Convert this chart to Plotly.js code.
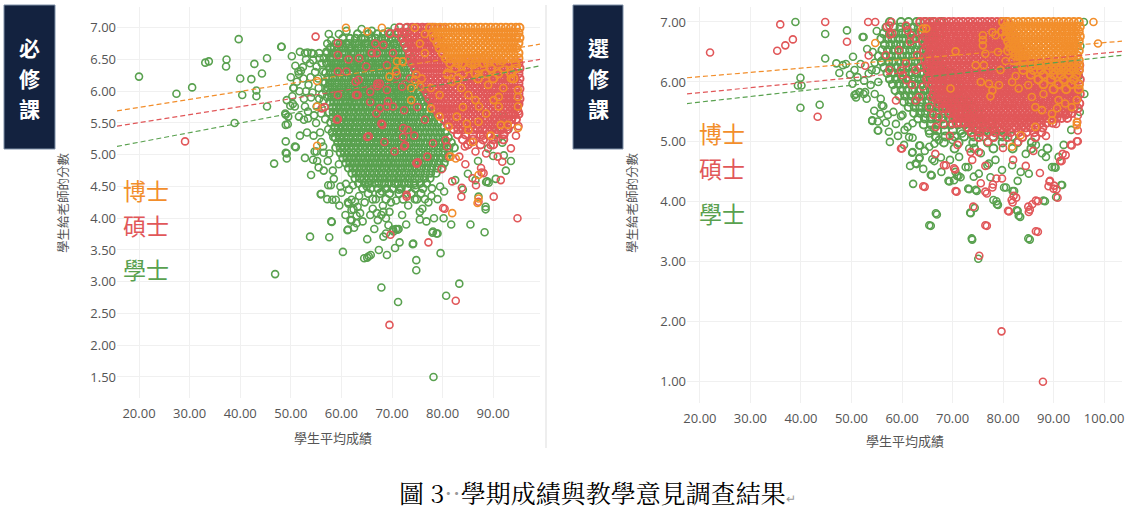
<!DOCTYPE html>
<html>
<head>
<meta charset="utf-8">
<script src="https://cdn.plot.ly/plotly-3.0.1.min.js"></script>
<style>
  html, body { margin: 0; padding: 0; background: #fff; }
  #chart { width: 1134px; height: 516px; }
</style>
</head>
<body>
<div id="chart"></div>
<script>
const C_PHD = '#F28E2B';
const C_MS = '#E15759';
const C_BA = '#59A14F';

// ---------- 必修課 (left panel) ----------
const reqXTicks = [20, 30, 40, 50, 60, 70, 80, 90];
const reqYTicks = [1.5, 2, 2.5, 3, 3.5, 4, 4.5, 5, 5.5, 6, 6.5, 7];

// dense cloud, read row by row: [score given, [average grades]]
const reqBaDense = [
  [6.90, [63.2, 65.4, 67.1, 68.3, 69.8, 71.2, 72.6]],
  [6.83, [60.3, 61.7, 62.8, 63.9, 64.7, 65.9, 66.8, 67.9, 68.7, 69.9, 70.8, 71.9, 73.1]],
  [6.75, [58.9, 59.8, 60.9, 61.6, 62.7, 63.5, 64.6, 65.3, 66.4, 67.2, 68.4, 69.1, 70.3, 71.0, 72.2, 73.4]],
  [6.68, [57.8, 58.6, 59.5, 60.4, 61.4, 62.1, 63.2, 64.0, 65.1, 65.9, 66.9, 67.8, 68.8, 69.6, 70.7, 71.5, 72.6]],
  [6.60, [57.2, 58.2, 59.0, 60.1, 60.8, 61.9, 62.6, 63.7, 64.5, 65.6, 66.3, 67.4, 68.2, 69.3, 70.1, 71.2, 72.0, 73.2]],
  [6.52, [56.6, 57.7, 58.4, 59.6, 60.3, 61.5, 62.2, 63.3, 64.1, 65.2, 66.0, 67.0, 67.9, 68.9, 69.7, 70.8, 71.6, 72.7, 73.8]],
  [6.44, [57.1, 58.0, 58.9, 59.9, 60.7, 61.8, 62.5, 63.6, 64.4, 65.5, 66.2, 67.3, 68.1, 69.2, 70.0, 71.0, 71.9, 73.0, 74.1]],
  [6.37, [57.6, 58.5, 59.3, 60.4, 61.2, 62.2, 63.0, 64.0, 64.9, 65.8, 66.7, 67.6, 68.6, 69.4, 70.4, 71.3, 72.3, 73.2, 74.4]],
  [6.29, [56.9, 57.9, 58.8, 59.7, 60.6, 61.6, 62.4, 63.4, 64.2, 65.2, 66.1, 67.0, 67.9, 68.9, 69.8, 70.7, 71.7, 72.6, 73.6, 74.7]],
  [6.21, [57.4, 58.3, 59.2, 60.1, 61.0, 62.0, 62.8, 63.8, 64.6, 65.6, 66.5, 67.4, 68.3, 69.3, 70.2, 71.1, 72.1, 73.0, 74.0, 75.1]],
  [6.13, [56.8, 57.7, 58.7, 59.5, 60.5, 61.4, 62.3, 63.2, 64.1, 65.0, 65.9, 66.9, 67.7, 68.7, 69.6, 70.5, 71.5, 72.4, 73.4, 74.4, 75.5]],
  [6.06, [57.3, 58.2, 59.1, 60.0, 60.9, 61.8, 62.7, 63.6, 64.5, 65.4, 66.3, 67.2, 68.1, 69.0, 70.0, 70.9, 71.8, 72.8, 73.7, 74.8, 75.9]],
  [5.98, [57.8, 58.6, 59.6, 60.4, 61.3, 62.2, 63.1, 64.0, 64.9, 65.8, 66.7, 67.6, 68.5, 69.5, 70.4, 71.3, 72.2, 73.2, 74.1, 75.2, 76.3]],
  [5.91, [57.2, 58.1, 59.0, 59.9, 60.8, 61.7, 62.6, 63.5, 64.4, 65.3, 66.2, 67.1, 68.0, 68.9, 69.9, 70.8, 71.7, 72.6, 73.6, 74.6, 75.6, 76.7]],
  [5.83, [57.7, 58.5, 59.4, 60.3, 61.2, 62.1, 63.0, 63.9, 64.8, 65.7, 66.6, 67.5, 68.4, 69.4, 70.3, 71.2, 72.1, 73.1, 74.0, 75.0, 76.0, 77.1]],
  [5.75, [58.2, 59.0, 59.9, 60.8, 61.7, 62.6, 63.4, 64.3, 65.2, 66.1, 67.0, 67.9, 68.8, 69.8, 70.7, 71.6, 72.5, 73.5, 74.4, 75.4, 76.4, 77.5]],
  [5.67, [57.6, 58.4, 59.3, 60.2, 61.1, 62.0, 62.9, 63.8, 64.7, 65.6, 66.5, 67.4, 68.3, 69.3, 70.2, 71.1, 72.0, 73.0, 73.9, 74.9, 75.9, 76.9, 78.0]],
  [5.59, [58.3, 59.1, 60.0, 60.9, 61.8, 62.7, 63.6, 64.5, 65.4, 66.3, 67.2, 68.1, 69.0, 70.0, 70.9, 71.8, 72.7, 73.7, 74.6, 75.6, 76.6, 77.6, 78.6]],
  [5.51, [57.9, 58.8, 59.6, 60.5, 61.4, 62.3, 63.2, 64.1, 65.0, 65.9, 66.8, 67.7, 68.6, 69.6, 70.5, 71.4, 72.3, 73.3, 74.2, 75.2, 76.2, 77.2, 78.2, 79.2]],
  [5.43, [58.6, 59.4, 60.3, 61.2, 62.1, 63.0, 63.9, 64.8, 65.7, 66.6, 67.5, 68.4, 69.3, 70.3, 71.2, 72.1, 73.0, 74.0, 74.9, 75.9, 76.9, 77.9, 78.9, 79.9]],
  [5.35, [58.2, 59.1, 59.9, 60.8, 61.7, 62.6, 63.5, 64.4, 65.3, 66.2, 67.1, 68.0, 68.9, 69.9, 70.8, 71.7, 72.6, 73.6, 74.5, 75.5, 76.5, 77.5, 78.5, 79.5, 80.5]],
  [5.27, [58.8, 59.6, 60.5, 61.4, 62.3, 63.2, 64.1, 65.0, 65.9, 66.8, 67.7, 68.6, 69.5, 70.5, 71.4, 72.3, 73.2, 74.2, 75.1, 76.1, 77.1, 78.1, 79.1, 80.1, 81.1]],
  [5.19, [59.3, 60.1, 61.0, 61.9, 62.8, 63.7, 64.6, 65.5, 66.4, 67.3, 68.2, 69.1, 70.0, 71.0, 71.9, 72.8, 73.7, 74.7, 75.6, 76.6, 77.6, 78.6, 79.6, 80.6, 81.7]],
  [5.11, [58.9, 59.8, 60.6, 61.5, 62.4, 63.3, 64.2, 65.1, 66.0, 66.9, 67.8, 68.7, 69.6, 70.6, 71.5, 72.4, 73.3, 74.3, 75.2, 76.2, 77.2, 78.2, 79.2, 80.2, 81.2, 82.3]],
  [5.03, [59.8, 60.6, 61.5, 62.4, 63.3, 64.2, 65.1, 66.0, 66.9, 67.8, 68.7, 69.6, 70.5, 71.5, 72.4, 73.3, 74.2, 75.2, 76.1, 77.1, 78.1, 79.1, 80.1, 81.2]],
  [4.95, [60.3, 61.1, 62.0, 62.9, 63.8, 64.7, 65.6, 66.5, 67.4, 68.3, 69.2, 70.1, 71.0, 72.0, 72.9, 73.8, 74.7, 75.7, 76.6, 77.6, 78.6, 79.6, 80.7]],
  [4.87, [60.9, 61.7, 62.6, 63.5, 64.4, 65.3, 66.2, 67.1, 68.0, 68.9, 69.8, 70.7, 71.6, 72.6, 73.5, 74.4, 75.3, 76.3, 77.2, 78.2, 79.2, 80.3]],
  [4.79, [61.4, 62.3, 63.1, 64.0, 64.9, 65.8, 66.7, 67.6, 68.5, 69.4, 70.3, 71.2, 72.1, 73.1, 74.0, 74.9, 75.8, 76.8, 77.8, 78.9, 79.9]],
  [4.71, [62.1, 62.9, 63.8, 64.7, 65.6, 66.5, 67.4, 68.3, 69.2, 70.1, 71.0, 71.9, 72.8, 73.8, 74.7, 75.6, 76.6, 77.6, 78.7]],
  [4.63, [62.7, 63.6, 64.5, 65.4, 66.3, 67.2, 68.1, 69.0, 69.9, 70.8, 71.7, 72.6, 73.5, 74.5, 75.4, 76.4, 77.5]],
  [4.55, [63.4, 64.6, 65.5, 66.6, 67.4, 68.5, 69.4, 70.5, 71.3, 72.4, 73.3, 74.4, 75.6, 76.8]],
  [4.47, [64.2, 65.8, 67.2, 68.9, 70.1, 71.8, 73.0, 74.6, 76.1]],
  [4.39, [65.3, 67.6, 69.5, 71.4, 73.8, 75.7]],
  [4.30, [66.2, 68.8, 72.2, 74.9]]
];
const reqBaPoints = [
  [20, 6.23], [27.4, 5.96], [30.5, 6.06], [33.1, 6.45], [33.8, 6.47], [37.3, 6.5], [37.2, 6.39],
  [39.7, 6.82], [40, 6.2], [42.2, 6.19], [42.8, 6.43], [45.3, 6.52], [44.3, 6.28], [40.4, 5.94],
  [43.2, 6.01], [43.2, 5.92], [45.3, 5.76], [48.1, 6.7], [38.9, 5.5], [46.7, 4.86], [46.9, 3.12],
  [49, 5.63], [49, 5.47], [49.4, 5.48], [49, 5.21], [49, 5.03], [49.2, 4.94], [51, 5.12],
  [50.6, 6.05], [49.9, 5.77], [50.4, 5.8], [51.6, 6.27], [52, 6.32], [53.3, 6.61], [54.5, 6.59],
  [52.6, 5.55], [53.4, 5.57], [54, 4.68], [53.8, 3.71], [54.7, 5.05], [55.2, 4.9], [56.5, 5.03],
  [56, 4.38], [57.4, 4.52], [57.9, 4.52], [58.2, 4.29], [58.9, 4.29], [58, 3.95], [57.6, 3.7],
  [60.3, 3.47], [60.9, 4.54], [61.3, 4.25], [62, 4.29], [62.4, 4.14], [61.3, 3.82], [62, 3.97],
  [63, 4.04], [65.1, 3.67], [64.5, 3.37], [65.1, 3.38], [65.4, 3.4], [65.8, 3.42], [66.5, 3.83],
  [67.2, 3.97], [67.9, 4.05], [67.4, 3.5], [69, 3.42], [68.3, 3.71], [68.8, 3.76], [70.2, 3.82],
  [70.8, 3.83], [71.1, 3.82], [70.6, 3.53], [71.5, 3.62], [67.9, 2.91], [71.2, 2.68], [74.1, 3.59],
  [74.8, 3.34], [74.8, 3.18], [79.6, 3.45], [78.2, 1.5], [80.7, 2.78], [83.3, 2.97], [78.3, 4],
  [80.2, 4], [81.7, 3.9], [78.1, 3.79], [79, 3.76], [85.5, 3.9], [88.3, 3.78], [88.5, 4.18],
  [88.5, 4.14], [87.1, 4.34], [88.8, 4.58], [91.8, 5.19], [92.1, 4.99], [90, 4.98], [90.7, 5.34],
  [48.2, 6.7], [52.8, 6.6], [54.1, 6.6], [54.4, 6.49], [53.8, 6.44], [55.1, 6.39], [56.1, 6.44],
  [51.5, 6.31], [52.5, 6.2], [51.2, 6.15], [50.5, 6.05], [53.5, 6.1], [55.4, 6.2], [56.4, 6.31],
  [49.2, 5.86], [48.9, 5.65], [49.5, 5.6], [50.8, 5.76], [52.8, 5.76], [55.1, 5.76], [50.8, 5.13],
  [49.2, 5.02], [55.1, 5.05], [56.4, 5.13], [54.4, 4.92], [58.4, 5.28], [58.1, 3.94], [55.9, 4.38],
  [61.2, 3.81], [61.8, 3.97], [63, 3.92], [63.7, 4.08], [62, 4.13], [61.4, 4.23], [62.7, 4.26],
  [67, 4.08], [68.3, 4.1], [68.8, 4], [69.3, 3.89], [70.3, 3.79], [71.3, 3.83], [75.5, 4.1],
  [75.5, 3.98], [78, 3.77], [78.8, 3.76], [74.2, 3.6], [88.6, 4.57], [89.1, 4.56], [85, 4.7],
  [86.5, 4.6], [84, 4.45], [90.5, 4.62], [92.5, 4.75], [93.5, 4.9], [87, 4.9], [89, 5.1],
  [91, 5.25], [93, 5.4], [92, 5.6], [54, 5.9], [55, 5.5], [54.5, 5.3], [56, 5.65], [53, 6],
  [55.5, 6.05], [56.5, 5.85], [57, 6.62], [58, 6.8], [61, 6.95], [64, 6.98], [66, 6.95],
  [69.2, 6.94], [72.7, 7], [70.5, 7], [56.5, 4.75], [58.5, 4.62], [60, 4.4], [59.5, 4.85], [82.5, 4.6],
  [56.2, 5.95], [55.8, 5.35], [57.3, 4.9], [59.8, 4.5], [61.5, 4.45], [77.8, 4.35], [79.5, 4.5],
  [63.5, 4.35], [69.8, 4.25], [76.5, 4.3], [55.6, 6.6], [59.5, 6.9],
  [50.2, 6.55], [51.8, 6.62], [53, 6.5], [55.7, 6.52], [57.2, 6.75], [50.9, 6.4], [52.4, 6.38],
  [54.8, 6.3], [57.5, 6.9], [50, 6.22], [53.9, 6.22], [56.6, 6.15], [51.7, 6], [54.3, 5.98],
  [57, 6], [52.6, 5.88], [55.6, 5.88], [50.3, 5.92], [53.4, 5.68], [56.8, 5.56], [51.6, 5.6],
  [54.6, 5.62], [57.4, 5.4], [56, 5.2], [53.2, 5.35], [51.8, 5.3], [57.6, 5.02], [58.3, 4.75],
  [55.5, 4.8], [52.8, 4.95], [57.2, 4.3], [59.6, 4.2], [60.8, 4.05], [63.2, 4.18], [64.6, 4.25],
  [65.7, 4.05], [66.8, 4.3], [68.2, 4.2], [69.5, 4.1], [70.8, 4.28], [72, 4.05], [73.2, 4.2],
  [74.5, 4.3], [76, 4.15], [77.2, 4.25], [71.4, 4.45], [68, 4.42], [65, 4.5], [62.3, 4.52],
  [74.6, 4.52], [77.9, 4.47], [79, 4.3], [80.3, 4.42], [66.2, 4.15], [62.5, 3.85], [64.2, 3.95],
  [72.8, 3.9], [76.8, 3.95]
];

const reqMsDense = [
  [7.00, [71.5, 73, 74, 75, 76, 77, 78]],
  [6.92, [71, 72, 73, 74, 75, 76, 77, 78]],
  [6.84, [72, 73, 74, 75, 76, 77, 78, 79]],
  [6.76, [72.5, 73.5, 74.5, 75.5, 76.5, 77.5, 78.5]],
  [6.68, [73, 74, 75, 76, 77, 78, 79, 80]],
  [6.60, [73.5, 74.5, 75.5, 76.5, 77.5, 78.5, 79.5]],
  [6.52, [73.5, 74.5, 75.5, 76.5, 77.5, 78.5, 79.5, 80.5]],
  [6.44, [74, 75, 76, 77, 78, 79, 80, 81, 82, 83, 84, 85, 86, 87, 88, 89, 90, 91, 92, 93, 94, 95]],
  [6.36, [74.5, 75.5, 76.5, 77.5, 78.5, 79.5, 80.5, 81.5, 82.5, 83.5, 84.5, 85.5, 86.5, 87.5, 88.5, 89.5, 90.5, 91.5, 92.5, 93.5, 94.5, 95.2]],
  [6.28, [75, 76, 77, 78, 79, 80, 81, 82, 83, 84, 85, 86, 87, 88, 89, 90, 91, 92, 93, 94, 95]],
  [6.20, [75.3, 76.2, 77.2, 78.1, 79.1, 80.0, 81.0, 81.9, 82.9, 83.8, 84.8, 85.7, 86.7, 87.6, 88.6, 89.5, 90.5, 91.4, 92.4, 93.3, 94.3, 95.2]],
  [6.12, [76, 77, 78, 79, 80, 81, 82, 83, 84, 85, 86, 87, 88, 89, 90, 91, 92, 93, 94, 95]],
  [6.04, [76.4, 77.3, 78.3, 79.2, 80.2, 81.1, 82.1, 83.0, 84.0, 84.9, 85.9, 86.8, 87.8, 88.7, 89.7, 90.6, 91.6, 92.5, 93.5, 94.4, 95.2]],
  [5.96, [77, 78, 79, 80, 81, 82, 83, 84, 85, 86, 87, 88, 89, 90, 91, 92, 93, 94, 95]],
  [5.88, [77.4, 78.3, 79.3, 80.2, 81.2, 82.1, 83.1, 84.0, 85.0, 85.9, 86.9, 87.8, 88.8, 89.7, 90.7, 91.6, 92.6, 93.5, 94.5, 95.2]],
  [5.80, [78, 79, 80, 81, 82, 83, 84, 85, 86, 87, 88, 89, 90, 91, 92, 93, 94, 95]],
  [5.72, [78.6, 79.5, 80.5, 81.4, 82.4, 83.3, 84.3, 85.2, 86.2, 87.1, 88.1, 89.0, 90.0, 90.9, 91.9, 92.8, 93.8, 94.7]],
  [5.64, [79.2, 80, 81, 82, 83, 84, 85, 86, 87, 88, 89, 90, 91, 92, 93, 94, 95]],
  [5.56, [80.3, 81.2, 82.2, 83.1, 84.1, 85.0, 86.0, 86.9, 87.9, 88.8, 89.8, 90.7, 91.7, 92.6, 93.6, 94.5]],
  [5.48, [81, 82, 83, 84, 85, 86, 87, 88, 89, 90, 91, 92, 93.5]],
  [5.40, [82.2, 83.1, 84.1, 85.0, 86.0, 86.9, 87.9, 88.8, 89.8, 90.7, 91.7, 92.8]],
  [5.32, [83, 84.5, 86, 87.5, 89, 90.5, 92]],
  [5.24, [84, 86, 88, 90, 92]],
  [5.16, [85, 87.5, 90]]
];
const reqMsPoints = [
  [54.9, 6.86], [59.3, 6.76], [59.3, 6.57], [59.3, 6.31], [61.4, 6.5], [59.3, 5.94], [59.3, 5.56],
  [56.7, 5.75], [63.2, 5.94], [62.8, 6.15], [64.9, 6.39], [67.1, 6.12], [67.1, 6.08], [67.6, 5.73],
  [68.1, 5.47], [65.4, 5.29], [29.1, 5.21], [69.5, 2.32], [69.7, 3.74], [72.9, 4.34], [75.1, 4.88],
  [77.2, 3.62], [80.4, 4.15], [81.9, 4.58], [83.7, 4.34], [82.6, 2.7], [90.1, 4.34], [94.8, 4],
  [87.1, 4.26], [88.1, 4.71], [87.6, 4.79], [91.8, 4.89], [90.9, 4.97], [92.2, 5.32], [92.9, 5.44],
  [93.6, 5.55], [94.3, 5.63], [95, 5.68], [94.9, 5.81], [88.6, 5.02], [86.5, 5.05], [84.4, 5.13],
  [83.3, 4.97], [80.9, 5.13], [80.6, 5.23], [81.3, 4.97], [79.8, 4.77], [77, 4.97], [78.1, 5.18],
  [74.8, 4.87], [72.4, 5.13], [73.1, 5.39], [74.4, 5.3], [72.4, 5.7], [69.2, 5.84], [70.2, 5.76],
  [69, 6.41], [70.2, 6.6], [69.5, 6.91], [66, 6.6], [66.7, 6.75], [63.5, 6.52], [61, 6.31],
  [72, 6.07], [80.1, 4.16], [83.8, 4.48], [85.9, 4.63], [87.7, 4.72], [86.6, 4.52], [84.5, 4.85],
  [85.5, 5.2], [88, 5.3], [89.5, 5.15], [93.5, 5.1], [94.5, 5.3], [95, 5.45], [91.5, 4.6],
  [76.5, 5.55], [75, 5.75], [73.5, 6.2], [71, 6.25], [70.5, 5.05], [68.5, 5.2], [75.5, 6.85],
  [76.5, 7], [79, 7], [80, 7], [63.4, 6.18], [62.9, 5.94], [65.7, 5.99], [67.6, 6.12], [69, 5.76],
  [65.7, 5.83], [56.1, 5.73], [59.1, 5.55], [65.1, 5.28], [67.9, 5.49], [72.2, 5.28], [72.6, 5.15],
  [74.9, 4.86], [72.9, 4.37], [67, 6.6], [68.3, 6.73], [69.6, 6.91], [66.9, 5.65], [72.2, 5.42],
  [69, 6.02]
];

const reqPhdDense = [
  [7.00, [77.5, 78.5, 79.5, 80.5, 81.5, 82.5, 83.5, 84.5, 85.5, 86.5, 87.5, 88.5, 89.5, 90.5, 91.5, 92.5, 93.5, 94.5, 95.2]],
  [6.92, [78, 79, 80, 81, 82, 83, 84, 85, 86, 87, 88, 89, 90, 91, 92, 93, 94, 95]],
  [6.84, [78.3, 79.3, 80.2, 81.2, 82.1, 83.1, 84.0, 85.0, 85.9, 86.9, 87.8, 88.8, 89.7, 90.7, 91.6, 92.6, 93.5, 94.5, 95.2]],
  [6.76, [79, 80, 81, 82, 83, 84, 85, 86, 87, 88, 89, 90, 91, 92, 93, 94, 95]],
  [6.68, [79.4, 80.4, 81.3, 82.3, 83.2, 84.2, 85.1, 86.1, 87.0, 88.0, 88.9, 89.9, 90.8, 91.8, 92.7, 93.7, 94.6]],
  [6.60, [80, 81, 82, 83, 84, 85, 86, 87, 88, 89, 90, 91, 92, 93, 94, 95]],
  [6.52, [80.7, 81.6, 82.6, 83.5, 84.5, 85.4, 86.4, 87.3, 88.3, 89.2, 90.2, 91.1, 92.1, 93.0, 94.0, 95.0]],
  [6.44, [81.5, 83, 84, 85.5, 86.5, 88, 89, 90.5, 91.5, 93, 94.5]],
  [6.36, [82.5, 85, 87, 89.5, 92, 94.5]],
  [6.28, [81, 84, 86.5, 88.5, 91, 93.5]],
  [6.20, [83, 87, 90, 94]]
];
const reqPhdPoints = [
  [60.9, 7], [65.1, 6.94], [68, 7], [74.5, 7], [71, 6.47], [72.1, 6.47], [69.5, 6.23], [55.2, 6.16],
  [55.2, 5.76], [55.2, 5.14], [74.5, 6.18], [74.8, 6.26], [75.6, 6.07], [73.8, 5.86], [79.4, 5.6],
  [77.7, 5.73], [82.8, 5.6], [81.2, 5.44], [81.6, 4.97], [82.6, 4.94], [87.1, 4.31], [87.1, 4.68],
  [81.9, 4.08], [86.9, 4.24], [94.9, 5.42], [94.9, 5.76], [94.9, 6.02], [94.9, 5.91], [92.9, 5.47],
  [91.5, 5.47], [87.1, 5.52], [85.1, 5.39], [84.8, 5.49], [91.1, 5.91], [77.7, 6.05], [79.4, 5.94],
  [80.9, 6.26], [81.9, 6.15], [83.7, 6.05], [85.1, 5.94], [86.5, 5.86], [87.2, 5.76], [88.6, 5.65],
  [90.1, 5.86], [91.1, 5.76], [73.8, 6.05], [75.9, 6.2], [70.8, 6.31], [76.5, 6.6], [75.5, 6.75],
  [76.5, 6.9], [89, 6.1], [92, 6.05], [84, 5.75], [89.5, 5.3], [93.5, 6.2], [86, 5.2]
];

const reqTrendX = [15.65, 99.25];
const reqPhdTrend = [5.69, 6.74];
const reqMsTrend = [5.45, 6.5];
const reqBaTrend = [5.13, 6.4];

// ---------- 選修課 (right panel) ----------
const elecXTicks = [20, 30, 40, 50, 60, 70, 80, 90, 100];
const elecYTicks = [1, 2, 3, 4, 5, 6, 7];

const elecBaDense = [
  [7.00, [57.6, 59.8, 61.3, 62.9, 64.6, 66.2, 67.8]],
  [6.91, [56.9, 58.4, 59.7, 60.9, 62.2, 63.3, 64.4, 65.6, 66.8]],
  [6.81, [56.4, 57.6, 58.7, 59.9, 60.8, 62.0, 63.1, 64.1, 65.3, 66.3, 67.5]],
  [6.72, [55.9, 57.1, 58.1, 59.3, 60.3, 61.5, 62.4, 63.6, 64.7, 65.8]],
  [6.62, [56.6, 57.7, 58.8, 59.8, 61.0, 62.0, 63.1, 64.2, 65.2, 66.4]],
  [6.53, [56.1, 57.2, 58.4, 59.4, 60.5, 61.6, 62.7, 63.8, 64.9, 66.0, 67.1]],
  [6.43, [55.4, 56.7, 57.8, 58.9, 60.0, 61.1, 62.2, 63.2, 64.3, 65.5, 66.6, 67.8]],
  [6.34, [56.0, 57.3, 58.3, 59.5, 60.6, 61.7, 62.7, 63.9, 65.0, 66.1, 67.3, 68.4]],
  [6.24, [56.5, 57.7, 58.9, 60.0, 61.1, 62.2, 63.4, 64.5, 65.6, 66.8, 67.9, 69.0]],
  [6.15, [57.1, 58.3, 59.4, 60.6, 61.7, 62.8, 63.9, 65.1, 66.2, 67.4, 68.5, 69.6]],
  [6.05, [57.6, 58.8, 60.0, 61.1, 62.3, 63.4, 64.5, 65.7, 66.8, 67.9, 69.1, 70.2]],
  [5.96, [58.2, 59.4, 60.5, 61.7, 62.8, 63.9, 65.1, 66.2, 67.4, 68.5, 69.6, 70.8]],
  [5.86, [58.7, 59.9, 61.1, 62.2, 63.4, 64.5, 65.7, 66.8, 67.9, 69.1, 70.2, 71.4]],
  [5.77, [59.5, 60.6, 61.8, 62.9, 64.1, 65.2, 66.3, 67.5, 68.6, 69.8, 70.9, 72.1]],
  [5.67, [60.4, 61.5, 62.7, 63.8, 65.0, 66.1, 67.3, 68.4, 69.6, 70.7, 71.9, 73.0]],
  [5.58, [61.3, 62.5, 63.6, 64.8, 65.9, 67.1, 68.2, 69.4, 70.5, 71.7, 72.8, 74.0]],
  [5.48, [62.4, 63.6, 64.7, 65.9, 67.0, 68.2, 69.3, 70.5, 71.6, 72.8, 74.0, 75.1]],
  [5.39, [63.2, 64.5, 65.7, 66.9, 68.1, 69.3, 70.5, 71.7, 72.9, 74.1, 75.4, 76.6]],
  [5.29, [64.3, 65.7, 67.0, 68.4, 69.7, 71.1, 72.4, 73.8, 75.1, 76.5, 77.9]],
  [5.19, [65.4, 67.0, 68.5, 70.1, 71.6, 73.2, 74.7, 76.3, 77.9, 79.5]],
  [5.09, [66.7, 68.6, 70.4, 72.3, 74.2, 76.1, 78.0, 79.9, 81.8]],
  [4.99, [68.3, 71.2, 74.1, 77.0, 79.9, 82.8, 85.7]],
  [4.89, [70.4, 74.3, 78.1, 81.9, 85.6, 88.8]]
];
const elecBaPoints = [
  [38.9, 7], [44.8, 6.8], [44.8, 6.39], [39.9, 6.07], [39.4, 5.94], [40.1, 5.94], [39.9, 5.57],
  [43.7, 5.62], [47, 6.31], [47.6, 6.15], [48.3, 6.28], [48.9, 6.3], [49.1, 6.86], [49.7, 6.12],
  [52.4, 6.75], [50.9, 5.8], [50.9, 5.74], [52.4, 5.8], [52.7, 5.83], [54.1, 5.35], [55.2, 5.34],
  [55.3, 5.19], [54.5, 5.52], [57.4, 5.17], [55.7, 5.47], [56.3, 5.6], [54.9, 6.19], [53.4, 6.14],
  [62.2, 4.3], [62.9, 4.63], [63.5, 4.74], [65.7, 3.6], [66.9, 3.79], [65.9, 4.44], [66.4, 4.68],
  [69.4, 4.34], [70.9, 4.43], [71.6, 4.41], [73.9, 3.37], [75.1, 3.05], [73.6, 3.81], [74.4, 3.9],
  [73.3, 4.21], [74.8, 4.18], [78.7, 4.01], [79, 3.95], [80.6, 4.24], [82.2, 4.18], [82.9, 4.35],
  [82.9, 3.85], [83.4, 3.75], [85.3, 3.37], [88.3, 4.01], [91.7, 4.28], [90.4, 4.57], [96.1, 5.8],
  [96, 7], [52.2, 6.75], [50.6, 6.2], [50.2, 5.97], [50.6, 5.78], [51.6, 5.83], [56, 5.61],
  [59.8, 5.43], [61.1, 5.25], [61.4, 5.08], [62.1, 4.83], [63.4, 4.94], [62.7, 4.64], [65.4, 5.14],
  [66.4, 5.22], [67.3, 5.03], [70, 5.03], [71.9, 5.14], [72.6, 4.58], [75.6, 4.81], [75.2, 4.47],
  [77.2, 4.64], [78.5, 4.7], [87.7, 4.81], [89.7, 4.58], [91, 4.75], [54.1, 5.36], [55.2, 5.19],
  [60.1, 5.45], [62.1, 5.31], [62.1, 5.07], [62, 4.82], [63.4, 4.72], [63.6, 4.94], [65.4, 4.92],
  [66.4, 4.97], [66.7, 5.08], [65.7, 4.45], [67.7, 4.74], [66, 4.71], [66.7, 3.81], [65.4, 3.61],
  [69.2, 4.35], [70.3, 4.36], [71.2, 4.43], [70.6, 4.5], [73.1, 4.58], [73.3, 4.89], [74.2, 4.42],
  [77.5, 4.41], [76.9, 4.61], [73.1, 4.22], [74.6, 4.2], [73.5, 3.82], [73.8, 3.39], [78.1, 4.03],
  [78.8, 3.96], [79.8, 4.53], [80.2, 4.24], [81.9, 4.18], [82.7, 3.86], [83.1, 3.77], [85, 3.39],
  [88, 4.02], [90.2, 4.58], [91.5, 4.28], [90.5, 4.08], [83.5, 4.5], [85.1, 4.47], [81.8, 4.61],
  [84.5, 4.8], [86.5, 4.95], [88.5, 4.75], [92, 4.95], [93.5, 5.2], [95.2, 5.5], [95, 6.1], [95.3, 6.6],
  [54.2, 6.5], [55, 6.85], [53.8, 5.95], [56.8, 5.32], [58.3, 5.5], [60.5, 5.2], [64.5, 4.85],
  [50.3, 6.42], [51.8, 6.3], [53.1, 6.55], [54.6, 6.32], [51.2, 6.08], [52.5, 6.02], [54.0, 6.2],
  [55.3, 6.0], [53.0, 5.72], [54.6, 5.8], [55.8, 5.72], [57.2, 5.45], [58.8, 5.3], [59.2, 5.1],
  [57.6, 5.0], [60.4, 4.95], [61.6, 4.6], [64.2, 4.55], [67.8, 4.5], [69.5, 4.7], [71.3, 4.75]
];

const elecMsDense = [
  [7.00, [63.6, 64.5, 65.5, 66.4, 67.4, 68.3, 69.3, 70.2, 71.2, 72.1, 73.1, 74.0, 75.0, 75.9, 76.9, 77.8, 78.8, 79.7, 80.7]],
  [6.92, [64.8, 65.7, 66.7, 67.6, 68.6, 69.5, 70.5, 71.4, 72.4, 73.3, 74.3, 75.2, 76.2, 77.1, 78.1, 79.0, 80.0, 80.9, 81.6]],
  [6.84, [63.9, 65.1, 66.0, 67.0, 67.9, 68.9, 69.8, 70.8, 71.7, 72.7, 73.6, 74.6, 75.5, 76.5, 77.4, 78.4, 79.3, 80.3, 81.2]],
  [6.76, [64.6, 65.5, 66.4, 67.4, 68.3, 69.3, 70.2, 71.2, 72.1, 73.1, 74.0, 75.0, 75.9, 76.9, 77.8, 78.8, 79.7, 80.7, 81.6, 82.4]],
  [6.68, [64.2, 65.3, 66.1, 67.0, 68.0, 68.9, 69.9, 70.8, 71.8, 72.7, 73.7, 74.6, 75.6, 76.5, 77.5, 78.4, 79.4, 80.3, 81.3, 82.2]],
  [6.60, [64.9, 65.8, 66.7, 67.7, 68.6, 69.6, 70.5, 71.5, 72.4, 73.4, 74.3, 75.3, 76.2, 77.2, 78.1, 79.1, 80.0, 81.0, 81.9, 82.8]],
  [6.52, [64.4, 65.6, 66.4, 67.3, 68.3, 69.2, 70.2, 71.1, 72.1, 73.0, 74.0, 74.9, 75.9, 76.8, 77.8, 78.7, 79.7, 80.6, 81.6, 82.5, 83.3]],
  [6.44, [65.2, 66.1, 67.0, 68.0, 68.9, 69.9, 70.8, 71.8, 72.7, 73.7, 74.6, 75.6, 76.5, 77.5, 78.4, 79.4, 80.3, 81.3, 82.2, 83.1, 84.0]],
  [6.36, [64.6, 65.4, 66.3, 67.1, 68.0, 68.9, 69.9, 70.8, 71.8, 72.7, 73.7, 74.6, 75.6, 76.5, 77.5, 78.4, 79.4, 80.3, 81.3, 82.2, 83.2, 84.1]],
  [6.28, [64.9, 65.9, 66.8, 67.7, 68.6, 69.6, 70.5, 71.5, 72.4, 73.4, 74.3, 75.3, 76.2, 77.2, 78.1, 79.1, 80.0, 81.0, 81.9, 82.9, 83.8, 84.8, 85.7, 86.7, 87.6, 88.6, 89.5, 90.5, 91.4, 92.4, 93.3, 94.3, 95.1]],
  [6.20, [65.1, 65.9, 66.8, 67.6, 68.5, 69.5, 70.4, 71.4, 72.3, 73.3, 74.2, 75.2, 76.1, 77.1, 78.0, 79.0, 79.9, 80.9, 81.8, 82.8, 83.7, 84.7, 85.6, 86.6, 87.5, 88.5, 89.4, 90.4, 91.3, 92.3, 93.2, 94.2, 95.0]],
  [6.12, [65.6, 66.5, 67.4, 68.2, 69.1, 70.1, 71.0, 72.0, 72.9, 73.9, 74.8, 75.8, 76.7, 77.7, 78.6, 79.6, 80.5, 81.5, 82.4, 83.4, 84.3, 85.3, 86.2, 87.2, 88.1, 89.1, 90.0, 91.0, 91.9, 92.9, 93.8, 94.8]],
  [6.04, [65.3, 66.1, 66.9, 67.8, 68.7, 69.6, 70.6, 71.5, 72.5, 73.4, 74.4, 75.3, 76.3, 77.2, 78.2, 79.1, 80.1, 81.0, 82.0, 82.9, 83.9, 84.8, 85.8, 86.7, 87.7, 88.6, 89.6, 90.5, 91.5, 92.4, 93.4, 94.3, 95.2]],
  [5.96, [65.9, 66.8, 67.7, 68.5, 69.4, 70.3, 71.3, 72.2, 73.2, 74.1, 75.1, 76.0, 77.0, 77.9, 78.9, 79.8, 80.8, 81.7, 82.7, 83.6, 84.6, 85.5, 86.5, 87.4, 88.4, 89.3, 90.3, 91.2, 92.2, 93.1, 94.1, 95.0]],
  [5.88, [66.4, 67.4, 68.3, 69.1, 70.0, 71.0, 71.9, 72.9, 73.8, 74.8, 75.7, 76.7, 77.6, 78.6, 79.5, 80.5, 81.4, 82.4, 83.3, 84.3, 85.2, 86.2, 87.1, 88.1, 89.0, 90.0, 90.9, 91.9, 92.8, 93.8, 94.7]],
  [5.80, [66.3, 67.1, 68.0, 68.9, 69.8, 70.7, 71.6, 72.6, 73.5, 74.5, 75.4, 76.4, 77.3, 78.3, 79.2, 80.2, 81.1, 82.1, 83.0, 84.0, 84.9, 85.9, 86.8, 87.8, 88.7, 89.7, 90.6, 91.6, 92.5, 93.5, 94.4, 95.2]],
  [5.72, [66.8, 67.6, 68.4, 69.2, 70.0, 70.9, 71.8, 72.8, 73.7, 74.7, 75.6, 76.6, 77.5, 78.5, 79.4, 80.4, 81.3, 82.3, 83.2, 84.2, 85.1, 86.1, 87.0, 88.0, 88.9, 89.9, 90.8, 91.8, 92.7, 93.7, 94.6]],
  [5.64, [67.2, 68.0, 68.9, 69.7, 70.5, 71.4, 72.3, 73.3, 74.2, 75.2, 76.1, 77.1, 78.0, 79.0, 79.9, 80.9, 81.8, 82.8, 83.7, 84.7, 85.6, 86.6, 87.5, 88.5, 89.4, 90.4, 91.3, 92.3, 93.2, 94.2, 95.1]],
  [5.56, [68.1, 68.8, 69.6, 70.4, 71.1, 72.0, 73.0, 73.9, 74.9, 75.8, 76.8, 77.7, 78.7, 79.6, 80.6, 81.5, 82.5, 83.4, 84.4, 85.3, 86.3, 87.2, 88.2, 89.1, 90.1, 91.0, 92.0, 92.9, 93.9, 94.8]],
  [5.48, [69.4, 70.3, 71.2, 72.0, 72.9, 73.8, 74.8, 75.7, 76.7, 77.6, 78.6, 79.5, 80.5, 81.4, 82.4, 83.3, 84.3, 85.2, 86.2, 87.1, 88.1, 89.0, 90.0, 90.9, 91.9, 92.8, 93.6]],
  [5.40, [70.1, 71.0, 71.8, 72.6, 73.5, 74.5, 75.4, 76.4, 77.3, 78.3, 79.2, 80.2, 81.1, 82.1, 83.0, 84.0, 84.9, 85.9, 86.8, 87.8, 88.7, 89.7, 90.6, 91.6, 92.7]],
  [5.32, [70.8, 71.6, 72.4, 73.3, 74.2, 75.2, 76.1, 77.1, 78.0, 79.0, 79.9, 80.9, 81.8, 82.8, 83.7, 84.7, 85.6, 86.6, 87.5, 88.6, 89.8]],
  [5.24, [73.1, 74.1, 75.0, 76.0, 76.9, 77.9, 78.8, 79.8, 80.7, 81.7, 82.6, 83.6, 84.5, 85.5, 86.6, 87.8]],
  [5.16, [73.8, 75.3, 76.9, 78.4, 80.0, 81.5, 83.1, 84.6, 86.2, 87.6]],
  [5.08, [75.2, 78.1, 80.9, 83.8, 86.4]]
];
const elecMsPoints = [
  [22, 6.49], [35.9, 6.96], [35.3, 6.52], [36.9, 6.61], [38.4, 6.71], [44.8, 7], [43.3, 5.42],
  [49.1, 6.67], [53.3, 7], [54.7, 7], [53.4, 6.44], [52.7, 6.27], [60, 4.89], [64.5, 4.25],
  [66.6, 4.8], [68.7, 4.61], [70.8, 4.17], [70.5, 4.54], [75.3, 3.1], [76.8, 3.6], [76.8, 4.14],
  [78, 4.29], [78.7, 4.39], [81.2, 3.84], [81.9, 3.99], [82.6, 4.07], [79.7, 1.84], [87.9, 1],
  [86.9, 3.5], [85.3, 3.87], [85.8, 3.96], [86.9, 4.01], [89.3, 4.35], [90.1, 4.27], [90.6, 4.21],
  [90.8, 4.07], [91.6, 4.68], [92.4, 4.78], [93.6, 4.94], [94.8, 5.01], [94.8, 5.19], [94.7, 5.33],
  [94.8, 5.44], [64.2, 4.26], [68.3, 4.61], [70.3, 4.56], [70.6, 4.18], [74.1, 3.92], [76.5, 3.61],
  [76.5, 4.17], [77.9, 4.24], [79.8, 4.39], [75.6, 4.31], [73.9, 4.7], [73.6, 4.83], [75.2, 4.83],
  [81, 3.85], [81.7, 4.03], [82.1, 4.1], [85, 3.92], [85.1, 3.83], [86.5, 4.02], [86.5, 3.51],
  [87.3, 4.48], [89.2, 4.34], [90, 4.22], [89, 4.26], [91.3, 4.68], [91.8, 4.8], [93.4, 4.95],
  [94.6, 5.01], [57, 6.92], [57.9, 7], [57.6, 6.79], [61.1, 6.86], [61.6, 6.67], [62.7, 6.72],
  [59.8, 6.19], [60.9, 6.03], [58.8, 5.69], [62.7, 5.69], [57.5, 6.94], [60.8, 6.94], [58.1, 6.81],
  [61.8, 6.78], [59.4, 6.53], [56.8, 6.45], [60.8, 6.31], [62.7, 6.2], [60.1, 6.11], [64.1, 5.92],
  [57.5, 6.2], [63.4, 5.75], [65.4, 5.58], [67.3, 5.42], [66.7, 5.25], [59.8, 4.89], [69.5, 5.1],
  [71, 4.95], [77, 5], [80, 4.9], [83, 5], [86, 4.85], [88.5, 5.1], [90.5, 5.3], [92.5, 5.45],
  [76.5, 4.6], [82, 4.7], [84.5, 4.6], [63, 6.45], [62, 5.95], [64.8, 6.05], [65.8, 5.75],
  [63.7, 6.25], [66.2, 5.45], [68.2, 5.3], [70, 5.3]
];

const elecPhdDense = [
  [7.00, [80, 81, 82, 83, 84, 85, 86, 87, 88, 89, 90, 91, 92, 93, 94, 95]],
  [6.92, [80.5, 81.5, 82.5, 83.5, 84.5, 85.5, 86.5, 87.5, 88.5, 89.5, 90.5, 91.5, 92.5, 93.5, 94.5, 95.2]],
  [6.84, [79.8, 80.8, 81.7, 82.7, 83.6, 84.6, 85.5, 86.5, 87.4, 88.4, 89.3, 90.3, 91.2, 92.2, 93.1, 94.1, 95.0]],
  [6.76, [80.5, 81.5, 82.5, 83.5, 84.5, 85.5, 86.5, 87.5, 88.5, 89.5, 90.5, 91.5, 92.5, 93.5, 94.5, 95.2]],
  [6.68, [81, 82, 83, 84, 85, 86, 87, 88, 89, 90, 91, 92, 93, 94, 95]],
  [6.60, [81.3, 82.3, 83.2, 84.2, 85.1, 86.1, 87.0, 88.0, 88.9, 89.9, 90.8, 91.8, 92.7, 93.7, 94.6]],
  [6.52, [81, 82, 83, 84, 85, 86, 87, 88, 89, 90, 91, 92, 93, 94, 95]],
  [6.44, [82.4, 83.3, 84.3, 85.2, 86.2, 87.1, 88.1, 89.0, 90.0, 90.9, 91.9, 92.8, 93.8, 94.7]],
  [6.36, [82, 83, 84, 85, 86, 87, 88, 89, 90, 91, 92, 93, 94, 95]],
  [6.28, [83.5, 84.5, 86, 87, 88, 89, 90, 91, 92, 93, 94, 95]],
  [6.20, [84, 86, 87.5, 89, 90, 91, 92, 93, 94, 95]],
  [6.12, [85.5, 88, 90, 91.5, 93, 94.5]],
  [6.04, [87, 89.5, 92, 94]],
  [5.96, [88, 91, 93.5, 95]],
  [5.88, [90, 92.5, 95]]
];
const elecPhdPoints = [
  [54.7, 6.65], [64.1, 6.89], [64.8, 6.89], [70.6, 6.51], [76, 6.78], [76, 6.7], [76, 6.61],
  [76.5, 6.47], [76.2, 6.28], [74.6, 6.28], [69.6, 5.89], [75.6, 6], [77.2, 5.97], [77.5, 5.76],
  [77.9, 6.83], [78.5, 6.78], [81.8, 6], [83.1, 5.89], [85.7, 5.75], [86.4, 5.58], [87.7, 5.53],
  [89.7, 5.47], [90.7, 5.56], [92.3, 5.64], [93.6, 5.58], [94.6, 5.7], [94.6, 5.28], [94.6, 5.33],
  [86.4, 5.25], [83.5, 5.11], [81.8, 4.92], [89.7, 5.36], [77.9, 5.86], [79.2, 5.95], [97.9, 7],
  [98.8, 6.64], [79, 6.5], [79.5, 6.2], [80.5, 6.35], [82.5, 6.1], [85, 5.95], [88, 5.8], [91, 5.7]
];

const elecTrendX = [17.44, 103.55];
const elecPhdTrend = [6.07, 6.68];
const elecMsTrend = [5.8, 6.51];
const elecBaTrend = [5.64, 6.445];

// ---------- helpers ----------
function fromRows(rows) {
  const x = [], y = [];
  rows.forEach(function (r) {
    r[1].forEach(function (v) { x.push(v); y.push(r[0]); });
  });
  return { x: x, y: y };
}

function dots(xs, ys, color, xa, ya, size, lw) {
  return {
    type: 'scatter', mode: 'markers', x: xs, y: ys, xaxis: xa, yaxis: ya,
    hoverinfo: 'skip', showlegend: false,
    marker: { symbol: 'circle-open', size: size, color: color, line: { width: lw, color: color } }
  };
}

function pairs(list, color, xa, ya) {
  return dots(list.map(p => p[0]), list.map(p => p[1]), color, xa, ya, 7, 1.6);
}

function dense(rows, color, xa, ya, size, lw) {
  const d = fromRows(rows);
  return dots(d.x, d.y, color, xa, ya, size, lw);
}

function trend(xs, ys, color, xa, ya) {
  return {
    type: 'scatter', mode: 'lines', x: xs, y: ys, xaxis: xa, yaxis: ya,
    hoverinfo: 'skip', showlegend: false,
    line: { color: color, width: 1.2, dash: '5px,3px' }
  };
}

const data = [
  dense(reqBaDense, C_BA, 'x', 'y', 7.5, 1.9),
  pairs(reqBaPoints, C_BA, 'x', 'y'),
  dense(reqMsDense, C_MS, 'x', 'y', 8, 2),
  pairs(reqMsPoints, C_MS, 'x', 'y'),
  dense(reqPhdDense, C_PHD, 'x', 'y', 8, 2),
  pairs(reqPhdPoints, C_PHD, 'x', 'y'),
  trend(reqTrendX, reqBaTrend, C_BA, 'x', 'y'),
  trend(reqTrendX, reqMsTrend, C_MS, 'x', 'y'),
  trend(reqTrendX, reqPhdTrend, C_PHD, 'x', 'y'),

  dense(elecBaDense, C_BA, 'x2', 'y2', 8, 1.9),
  pairs(elecBaPoints, C_BA, 'x2', 'y2'),
  dense(elecMsDense, C_MS, 'x2', 'y2', 8, 2),
  pairs(elecMsPoints, C_MS, 'x2', 'y2'),
  dense(elecPhdDense, C_PHD, 'x2', 'y2', 8, 2),
  pairs(elecPhdPoints, C_PHD, 'x2', 'y2'),
  trend(elecTrendX, elecBaTrend, C_BA, 'x2', 'y2'),
  trend(elecTrendX, elecMsTrend, C_MS, 'x2', 'y2'),
  trend(elecTrendX, elecPhdTrend, C_PHD, 'x2', 'y2')
];

const W = 1134, H = 516;
const px = v => v / W;
const py = v => 1 - v / H;

const tickFont = { family: 'Open Sans, Noto Sans, sans-serif', size: 13, color: '#555' };
const cjk = 'Noto Sans CJK TC, Noto Sans CJK SC, sans-serif';

function xAxis(domain, range, ticks, anchor) {
  return {
    domain: domain, range: range, anchor: anchor,
    tickmode: 'array', tickvals: ticks, tickformat: '.2f',
    tickfont: tickFont, ticks: '', ticklabelstandoff: 6,
    showline: false, zeroline: false,
    showgrid: true, gridcolor: '#f0f0f0', gridwidth: 1, fixedrange: true
  };
}
function yAxis(domain, range, ticks, anchor) {
  return {
    domain: domain, range: range, anchor: anchor,
    tickmode: 'array', tickvals: ticks, tickformat: '.2f',
    tickfont: tickFont, ticks: '', showline: false, zeroline: false,
    showgrid: true, gridcolor: '#f0f0f0', gridwidth: 1, fixedrange: true
  };
}

function txt(x, y, text, size, color, opts) {
  return Object.assign({
    xref: 'paper', yref: 'paper', x: px(x), y: py(y), text: text, showarrow: false,
    xanchor: 'center', yanchor: 'middle',
    font: { family: cjk, size: size, color: color }
  }, opts || {});
}

const annotations = [
  // side boxes
  txt(29.5, 47, '<b>必</b>', 21, '#ffffff'),
  txt(29.5, 77.5, '<b>修</b>', 21, '#ffffff'),
  txt(29.5, 108, '<b>課</b>', 21, '#ffffff'),
  txt(598, 47, '<b>選</b>', 21, '#ffffff'),
  txt(598, 77.5, '<b>修</b>', 21, '#ffffff'),
  txt(598, 108, '<b>課</b>', 21, '#ffffff'),
  // group labels
  txt(121, 190, '博士', 23, C_PHD, { xanchor: 'left' }),
  txt(121, 225, '碩士', 23, C_MS, { xanchor: 'left' }),
  txt(121, 269, '學士', 23, C_BA, { xanchor: 'left' }),
  txt(697, 133, '博士', 23, C_PHD, { xanchor: 'left' }),
  txt(697, 168, '碩士', 23, C_MS, { xanchor: 'left' }),
  txt(697, 213, '學士', 23, C_BA, { xanchor: 'left' }),
  // axis titles
  txt(62, 203, '學生給老師的分數', 12.5, '#555', { textangle: -90 }),
  txt(631, 203, '學生給老師的分數', 12.5, '#555', { textangle: -90 }),
  txt(333, 437, '學生平均成績', 13, '#555'),
  txt(905, 440, '學生平均成績', 13, '#555'),
  // caption
  txt(597, 492, '圖 3<span style="color:#999">··</span>學期成績與教學意見調查結果<span style="color:#999;font-size:12px">↵</span>', 25, '#000',
    { font: { family: 'Noto Serif CJK TC, Noto Sans CJK TC, serif', size: 25, color: '#000' } })
];

const shapes = [
  { type: 'rect', xref: 'paper', yref: 'paper', x0: px(4), x1: px(55), y0: py(149), y1: py(5),
    fillcolor: '#13223f', line: { color: '#7f90a8', width: 1 }, layer: 'below' },
  { type: 'rect', xref: 'paper', yref: 'paper', x0: px(573), x1: px(623), y0: py(149), y1: py(5),
    fillcolor: '#13223f', line: { color: '#7f90a8', width: 1 }, layer: 'below' },
  { type: 'line', xref: 'paper', yref: 'paper', x0: px(546), x1: px(546), y0: py(448), y1: py(5),
    line: { color: '#dddddd', width: 1 } }
];

const layout = {
  width: W, height: H,
  margin: { l: 0, r: 0, t: 0, b: 0 },
  paper_bgcolor: '#ffffff', plot_bgcolor: 'rgba(0,0,0,0)',
  showlegend: false,
  xaxis: xAxis([px(117), px(540)], [15.65, 99.25], reqXTicks, 'y'),
  yaxis: yAxis([py(398), py(7)], [1.169, 7.326], reqYTicks, 'x'),
  xaxis2: xAxis([px(687), px(1122)], [17.44, 103.55], elecXTicks, 'y2'),
  yaxis2: yAxis([py(402.7), py(7)], [0.65, 7.25], elecYTicks, 'x2'),
  annotations: annotations,
  shapes: shapes
};

Plotly.newPlot('chart', data, layout, { staticPlot: true, displayModeBar: false });
</script>
</body>
</html>
